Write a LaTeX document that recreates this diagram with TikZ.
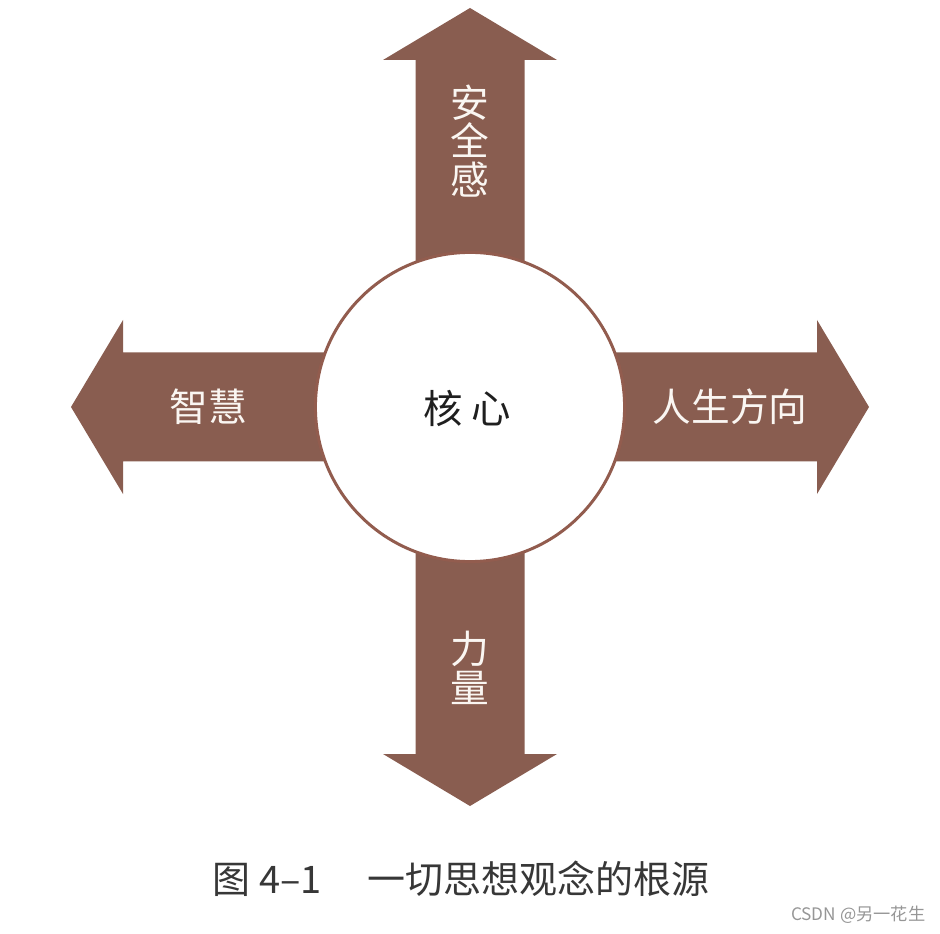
\documentclass[tikz,border=0pt]{standalone}
\usepackage{fontspec}
\setmainfont{Noto Sans CJK SC}
\usepackage{xcolor}
\usetikzlibrary{positioning}
\definecolor{rootbrown}{RGB}{137,93,80}
\definecolor{rimbrown}{RGB}{146,92,78}
\definecolor{cream}{RGB}{250,246,242}
\definecolor{captgray}{RGB}{55,55,55}
\definecolor{markgray}{RGB}{150,150,150}
\tikzset{
  arw/.style    ={fill=rootbrown},
  core/.style   ={draw=rimbrown, circle, fill=white, minimum size=3.09cm, inner sep=0pt, line width=0.85pt},
  corelbl/.style={font=\fontsize{11.2}{12}\selectfont, text=black!88},
  alab/.style   ={font=\fontsize{11}{11}\selectfont, text=cream, inner sep=0pt, align=center},
  capt/.style   ={font=\fontsize{10.8}{12}\selectfont, text=captgray, inner sep=0pt},
  wmark/.style  ={font=\fontsize{4.9}{6}\selectfont, text=markgray, inner sep=0pt},
}
\begin{document}
\begin{tikzpicture}[x=0.01cm, y=-0.01cm]
  \useasboundingbox (0,0) rectangle (940,934);
  \coordinate (c) at (470,407);

  % four arrows out of the centre
  \foreach \ang in {0,90,180,270}
    \fill[arw, shift={(c)}, rotate=\ang] (-54.5,0) -- (-54.5,-347) -- (-87,-347) -- (0,-399)
      -- (87,-347) -- (54.5,-347) -- (54.5,0) -- cycle;

  % centre
  \node[core] (hub) at (c) {};
  \node[corelbl] (hubtxt) at (467,408) {核 心};

  % arrow labels
  \node[alab] (safe) at (470,141) {安\\全\\感};
  \node[alab] (wise) at (208,407) {智慧};
  \node[alab] (life) at (730,407) {人生方向};
  \node[alab] (power) at (470,668) {力\\量};

  % caption
  \node[capt, anchor=west] (cap) at (212,879) {图 4–1\hspace{1.2em}一切思想观念的根源};
  \node[wmark, anchor=east] (wm) at (926,915) {CSDN @另一花生};
\end{tikzpicture}
\end{document}
